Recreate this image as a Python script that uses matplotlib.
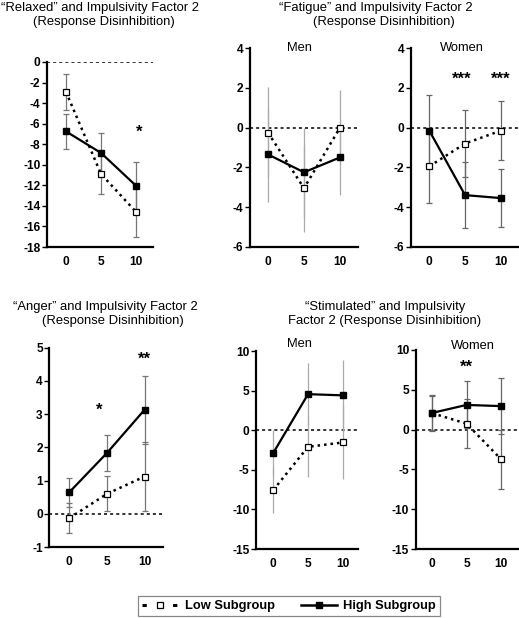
import matplotlib
matplotlib.use("Agg")
import matplotlib.pyplot as plt
from matplotlib.lines import Line2D

plt.rcParams['font.family'] = ['Liberation Sans', 'DejaVu Sans']

doses = [0, 5, 10]
dose_labels = ['0', '5', '10']

relaxed_low = [-2.9, -10.9, -14.6]
relaxed_low_err = [1.75, 1.9, 2.4]
relaxed_high = [-6.75, -8.85, -12.05]
relaxed_high_err = [1.72, 1.95, 2.3]

fatigue_men_low = [-0.25, -3.05, 0.0]
fatigue_men_low_err = [2.3, 2.2, 1.9]
fatigue_men_high = [-1.35, -2.25, -1.5]
fatigue_men_high_err = [2.4, 2.25, 1.9]

fatigue_women_low = [-1.95, -0.8, -0.15]
fatigue_women_low_err = [1.85, 1.7, 1.5]
fatigue_women_high = [-0.15, -3.4, -3.55]
fatigue_women_high_err = [1.8, 1.68, 1.45]

anger_low = [-0.13, 0.6, 1.12]
anger_low_err = [0.45, 0.53, 1.03]
anger_high = [0.65, 1.83, 3.13]
anger_high_err = [0.44, 0.54, 1.02]

stim_men_low = [-7.55, -2.1, -1.55]
stim_men_low_err = [2.85, 3.85, 4.6]
stim_men_high = [-2.85, 4.55, 4.4]
stim_men_high_err = [2.9, 3.9, 4.5]

stim_women_low = [2.05, 0.75, -3.7]
stim_women_low_err = [2.15, 3.05, 3.7]
stim_women_high = [2.1, 3.1, 2.95]
stim_women_high_err = [2.3, 2.95, 3.5]

W, H = 519, 618
fig = plt.figure(figsize=(W / 100, H / 100), dpi=100)


def make_ax(x0, x1, ytop, ybot):
    return fig.add_axes([x0 / W, 1 - ybot / H, (x1 - x0) / W, (ybot - ytop) / H])


def style(ax, xlim, ylim, yticks):
    ax.set_xlim(*xlim)
    ax.set_ylim(*ylim)
    ax.set_yticks(yticks)
    ax.set_yticklabels([str(t) for t in yticks])
    ax.set_xticks(doses)
    ax.set_xticklabels(dose_labels)
    for s in ['top', 'right']:
        ax.spines[s].set_visible(False)
    for s in ['left', 'bottom']:
        ax.spines[s].set_linewidth(1.6)
    ax.tick_params(axis='y', length=3.5, width=1.0, pad=1.2, labelsize=8.6)
    ax.tick_params(axis='x', length=0, pad=6.5, labelsize=8.6)
    for lab in ax.get_xticklabels() + ax.get_yticklabels():
        lab.set_fontweight('bold')
    ax.axhline(0, color='black', lw=1.1, linestyle=(0, (2, 2)), zorder=1)
    ax.patch.set_alpha(0)


def draw(ax, low, low_err, high, high_err, ecolor, capsize):
    ax.errorbar(doses, low, yerr=low_err, fmt='none', ecolor=ecolor, elinewidth=0.9,
                capsize=capsize, capthick=0.9, zorder=2)
    ax.errorbar(doses, high, yerr=high_err, fmt='none', ecolor=ecolor, elinewidth=0.9,
                capsize=capsize, capthick=0.9, zorder=2)
    ax.plot(doses, low, color='black', lw=1.8, linestyle=(0, (1, 1.6)), marker='s',
            markersize=4.2, markerfacecolor='white', markeredgecolor='black',
            markeredgewidth=0.9, zorder=3)
    ax.plot(doses, high, color='black', lw=1.6, linestyle='-', marker='s',
            markersize=4.5, markerfacecolor='black', markeredgecolor='black', zorder=4)


def stars(ax, x, y, s):
    ax.text(x, y, s, ha='center', va='center', fontsize=12, fontweight='bold', clip_on=False)


# Relaxed
ax1 = make_ax(47, 153, 62, 247)
style(ax1, (-2.7, 12.4), (-18, 0), list(range(-18, 1, 2)))
draw(ax1, relaxed_low, relaxed_low_err, relaxed_high, relaxed_high_err, '#777777', 2)
stars(ax1, 10.5, -6.8, '*')

# Fatigue men
ax2 = make_ax(250, 358, 48.3, 246.7)
style(ax2, (-2.5, 12.5), (-6, 4), list(range(-6, 5, 2)))
draw(ax2, fatigue_men_low, fatigue_men_low_err, fatigue_men_high, fatigue_men_high_err, '#aaaaaa', 0)
ax2.text(4.3, 4.0, 'Men', ha='center', va='center', fontsize=9.3, clip_on=False)

# Fatigue women
ax3 = make_ax(410.7, 518, 48.3, 246.7)
style(ax3, (-2.6, 12.4), (-6, 4), list(range(-6, 5, 2)))
draw(ax3, fatigue_women_low, fatigue_women_low_err, fatigue_women_high, fatigue_women_high_err, '#666666', 2)
ax3.text(4.5, 4.0, 'Women', ha='center', va='center', fontsize=9.3, clip_on=False)
stars(ax3, 4.5, 2.45, '***')
stars(ax3, 10.0, 2.45, '***')

# Anger
ax4 = make_ax(49.3, 163.3, 347.7, 547)
style(ax4, (-2.67, 12.5), (-1, 5), list(range(-1, 6)))
draw(ax4, anger_low, anger_low_err, anger_high, anger_high_err, '#777777', 2)
stars(ax4, 3.9, 3.12, '*')
stars(ax4, 10.0, 4.65, '**')

# Stimulated men
ax5 = make_ax(256, 358, 351, 549)
style(ax5, (-2.5, 12.2), (-15, 10), list(range(-15, 11, 5)))
draw(ax5, stim_men_low, stim_men_low_err, stim_men_high, stim_men_high_err, '#aaaaaa', 0)
ax5.text(3.7, 10.85, 'Men', ha='center', va='center', fontsize=9.3, clip_on=False)

# Stimulated women
ax6 = make_ax(415.7, 518, 350, 549)
style(ax6, (-2.42, 12.5), (-15, 10), list(range(-15, 11, 5)))
draw(ax6, stim_women_low, stim_women_low_err, stim_women_high, stim_women_high_err, '#666666', 2)
ax6.text(5.97, 10.5, 'Women', ha='center', va='center', fontsize=9.3, clip_on=False)
stars(ax6, 5.05, 7.8, '**')


# Titles
def title(xc, yc, s):
    fig.text(xc / W, 1 - yc / H, s, ha='center', va='center', fontsize=9.4)


title(100, 8, '\u201cRelaxed\u201d and Impulsivity Factor 2')
title(104, 22, '(Response Disinhibition)')
title(376, 8, '\u201cFatigue\u201d and Impulsivity Factor 2')
title(384, 22, '(Response Disinhibition)')
title(105, 307, '\u201cAnger\u201d and Impulsivity Factor 2')
title(113, 321, '(Response Disinhibition)')
title(385, 307, '\u201cStimulated\u201d and Impulsivity')
title(385, 321, 'Factor 2 (Response Disinhibition)')

# Legend
low_handle = Line2D([], [], color='black', lw=2.2, dashes=(1.4, 3.6), marker='s',
                    markersize=4.2, markerfacecolor='white', markeredgecolor='black',
                    markeredgewidth=0.9)
high_handle = Line2D([], [], color='black', lw=1.8, linestyle='-', marker='s',
                     markersize=4.8, markerfacecolor='black')
leg = fig.legend([low_handle, high_handle], ['Low Subgroup', 'High Subgroup'],
                 loc='center', bbox_to_anchor=(289 / W, 1 - 606 / H), ncol=2,
                 frameon=True, fancybox=False, edgecolor='#888888', framealpha=1,
                 prop={'weight': 'bold', 'size': 9.3}, handlelength=2.8,
                 handletextpad=0.5, columnspacing=2.0, borderpad=0.3)
leg.get_frame().set_linewidth(0.9)

fig.savefig('out.png', dpi=100)
